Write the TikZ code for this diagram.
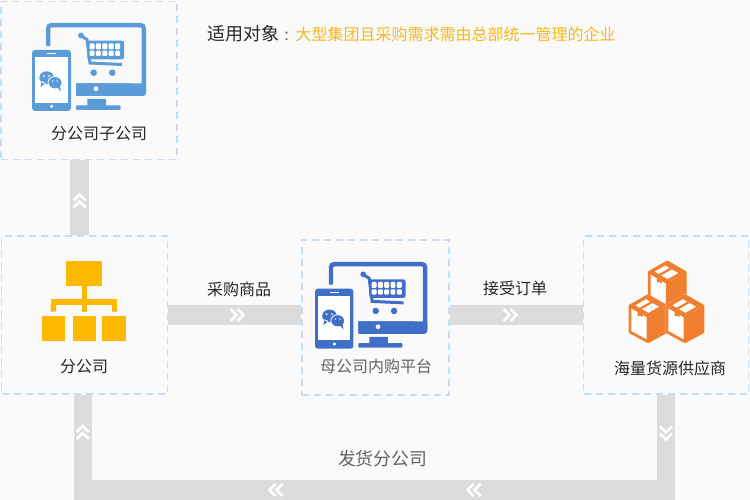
\documentclass[tikz,border=0pt]{standalone}
\usepackage{fontspec}
\setmainfont{Noto Sans CJK SC}
\definecolor{pagebg}{HTML}{FAFAFA}
\definecolor{dashblue}{HTML}{C6DDF1}
\definecolor{bargray}{HTML}{DCDCDC}
\definecolor{topblue}{HTML}{5B9BD8}
\definecolor{platblue}{HTML}{3F6FC6}
\definecolor{gold}{HTML}{FDB900}
\definecolor{boxorange}{HTML}{F08030}
\definecolor{titlegold}{HTML}{F5B71E}
\tikzset{
  dashbox/.style={draw=dashblue, line width=1.4pt, dash pattern=on 7pt off 5pt, inner sep=0pt},
  conn/.style={draw=bargray, line width=20pt},
  riser/.style={draw=bargray, line width=18pt},
  lbl/.style={inner sep=0pt, text=black!85, font=\fontsize{16pt}{16pt}\selectfont},
  chevrons/.pic={
    \draw [white, line width=2.6pt] (-7.5,-6) -- (-1.5,0) -- (-7.5,6) (-0.5,-6) -- (5.5,0) -- (-0.5,6);
  },
  devices/.pic={
    \draw [iconcol, line width=4.4pt, rounded corners=3pt] (16.2,23) -- (16.2,2.2) -- (111.8,2.2) -- (111.8,68);
    \fill [iconcol, rounded corners=3pt] (44,60.3) -- (114,60.3) -- (114,73) -- (44,73) [sharp corners] -- (44,60.3) -- cycle;
    \fill [iconcol] (44,60.3) rectangle (100,73) (55.3,76) rectangle (74,84);
    \fill [iconcol, rounded corners=1pt] (44,82.3) rectangle (88.7,87);
    \fill [white] (64,65.7) circle [radius=2.4];
    \draw [iconcol, line width=3pt] (50,13.5) -- (55,16.5) -- (58,40) -- (90,41.5);
    \fill [iconcol] (49,12.5) circle [radius=2.9];
    \fill [iconcol, rounded corners=2pt] (55.3,17.7) rectangle (92,36.3);
    \foreach \cx in {0,...,4} {
      \fill [white, rounded corners=1pt] (57.5+6.4*\cx,20.3) rectangle ++(5,6);
      \fill [white, rounded corners=1pt] (57.5+6.4*\cx,27.7) rectangle ++(5,5.3);
    }
    \fill [iconcol] (61.7,49.7) circle [radius=3.3] (80.3,49.7) circle [radius=3.3];
    \fill [iconcol, rounded corners=3pt] (0,27) rectangle (39,88);
    \fill [white] (3.4,34.4) rectangle (36,79.6);
    \draw [white, line width=1pt] (15.3,31) -- (24,31);
    \fill [white] (19.7,83.3) circle [radius=1.7];
    \fill [iconcol] (14.7,54.7) ellipse [x radius=7.4, y radius=6.4] (9.5,58) -- (8.5,64) -- (14,60) -- cycle;
    \filldraw [iconcol, draw=white, line width=0.8pt] (23,59.7) ellipse [x radius=7, y radius=6.2];
    \fill [iconcol] (25,64) -- (29,68.5) -- (28,63) -- cycle;
    \fill [white] (11.8,53) circle [radius=1] (17.2,53) circle [radius=1] (20.6,58) circle [radius=.8] (25.4,58) circle [radius=.8];
  },
  cube/.pic={
    \fill [pagebg] (0,-1.5) -- (19.5,9.5) -- (19.5,37) -- (0,47.5) -- (-19.5,37) -- (-19.5,9.5) -- cycle;
    \fill [white] (0,20.6) -- (-18,10.3) -- (-18,36.3) -- (0,46) -- cycle;
    \fill [boxorange] (0,20.6) -- (18,10.3) -- (18,36.3) -- (0,46) -- cycle;
    \draw [boxorange, line width=2.8pt, line join=round] (0,0) -- (18,10.3) -- (18,36.3) -- (0,46) -- (-18,36.3) -- (-18,10.3) -- cycle (-18,10.3) -- (0,20.6) -- (0,46);
    \fill [boxorange] (0,0) -- (18,10.3) -- (0,20.6) -- (-18,10.3) -- cycle;
    \fill [white] (-12.5,9.5) -- (-2,3.5) -- (2,6) -- (-8.5,12) -- cycle;
    \fill [white] (-6,13.5) -- (4.5,7.5) -- (11,11) -- (0.5,17) -- cycle;
    \fill [boxorange] (-10.5,14) -- (-5.5,16.5) -- (-5.5,21.5) -- (-8,20) -- (-10.5,20.5) -- cycle;
  }
}
\begin{document}
\begin{tikzpicture}[x=1pt, y=-1pt]
  \useasboundingbox [fill=pagebg] (0,0) rectangle (750,500);
  \node [dashbox, minimum width=176pt, minimum height=158pt] (subco) at (89,80.5) {};
  \node [dashbox, minimum width=166pt, minimum height=158pt] (branch) at (84.5,315) {};
  \node [dashbox, minimum width=147pt, minimum height=155pt] (platform) at (375.5,317.5) {};
  \node [dashbox, minimum width=165pt, minimum height=158pt] (supplier) at (666,315) {};
  \coordinate (topbar) at (79.5,198);
  \coordinate (midrow) at (375,315);
  \coordinate (leftdrop) at (83,490);
  \coordinate (rightdrop) at (666.3,490);
  \coordinate (leftturn) at (74,490);
  \coordinate (rightturn) at (675.3,490);
  \draw [riser, line width=19pt] (subco.south -| topbar) -- (branch.north -| topbar);
  \draw [conn] (branch.east |- midrow) -- (platform.west |- midrow);
  \draw [conn] (platform.east |- midrow) -- (supplier.west |- midrow);
  \draw [riser] (supplier.south -| rightdrop) -- (rightdrop);
  \draw [riser] (branch.south -| leftdrop) -- (leftdrop);
  \draw [conn] (rightturn) -- (leftturn);
  \pic at (79.5,200) [rotate=90] {chevrons};
  \pic at (82.7,431.5) [rotate=90] {chevrons};
  \pic at (238,315) {chevrons};
  \pic at (511,315) {chevrons};
  \pic at (666,434) [rotate=-90] {chevrons};
  \pic at (473,490) [rotate=180] {chevrons};
  \pic at (275,490) [rotate=180] {chevrons};
  \colorlet{iconcol}{topblue}
  \pic at (32,23) {devices};
  \colorlet{iconcol}{platblue}
  \pic at (315,262) [scale=0.985] {devices};
  \fill [gold] (66,261) rectangle (101.7,285.7);
  \fill [gold] (81.7,285.7) rectangle (87,311.7);
  \fill [gold] (50.7,299.3) rectangle (117,305.3);
  \fill [gold] (50.7,305) rectangle (56,311.7) (112,305) rectangle (117,311.7);
  \foreach \bx in {42,72.5,102.3}
    \fill [gold] (\bx,316.3) rectangle ++(23.4,24.4);
  \pic at (667.3,262) {cube};
  \pic at (648,295.7) {cube};
  \pic at (685,295.7) {cube};
  \node [lbl] (subcolabel) at (99,134) {分公司子公司};
  \node [lbl] (branchlabel) at (84,366.5) {分公司};
  \node [lbl, text=black!62] (platformlabel) at (376,366.5) {母公司内购平台};
  \node [lbl] (supplierlabel) at (670,368.5) {海量货源供应商};
  \node [lbl] (buylabel) at (239,289.5) {采购商品};
  \node [lbl] (orderlabel) at (515,288.5) {接受订单};
  \node [lbl, text=black!62, font=\fontsize{17.8pt}{18pt}\selectfont] (shiplabel) at (382.5,458.5) {发货分公司};
  \node [lbl, anchor=west, font=\fontsize{18pt}{18pt}\selectfont] (titlelabel) at (207,33.5) {适用对象};
  \node [lbl, anchor=west, text=titlegold] (audiencelabel) at (295.5,34) {大型集团且采购需求需由总部统一管理的企业};
  \node [lbl, anchor=center, text=black!60] (colonlabel) at (286.5,36) {:};
\end{tikzpicture}
\end{document}
